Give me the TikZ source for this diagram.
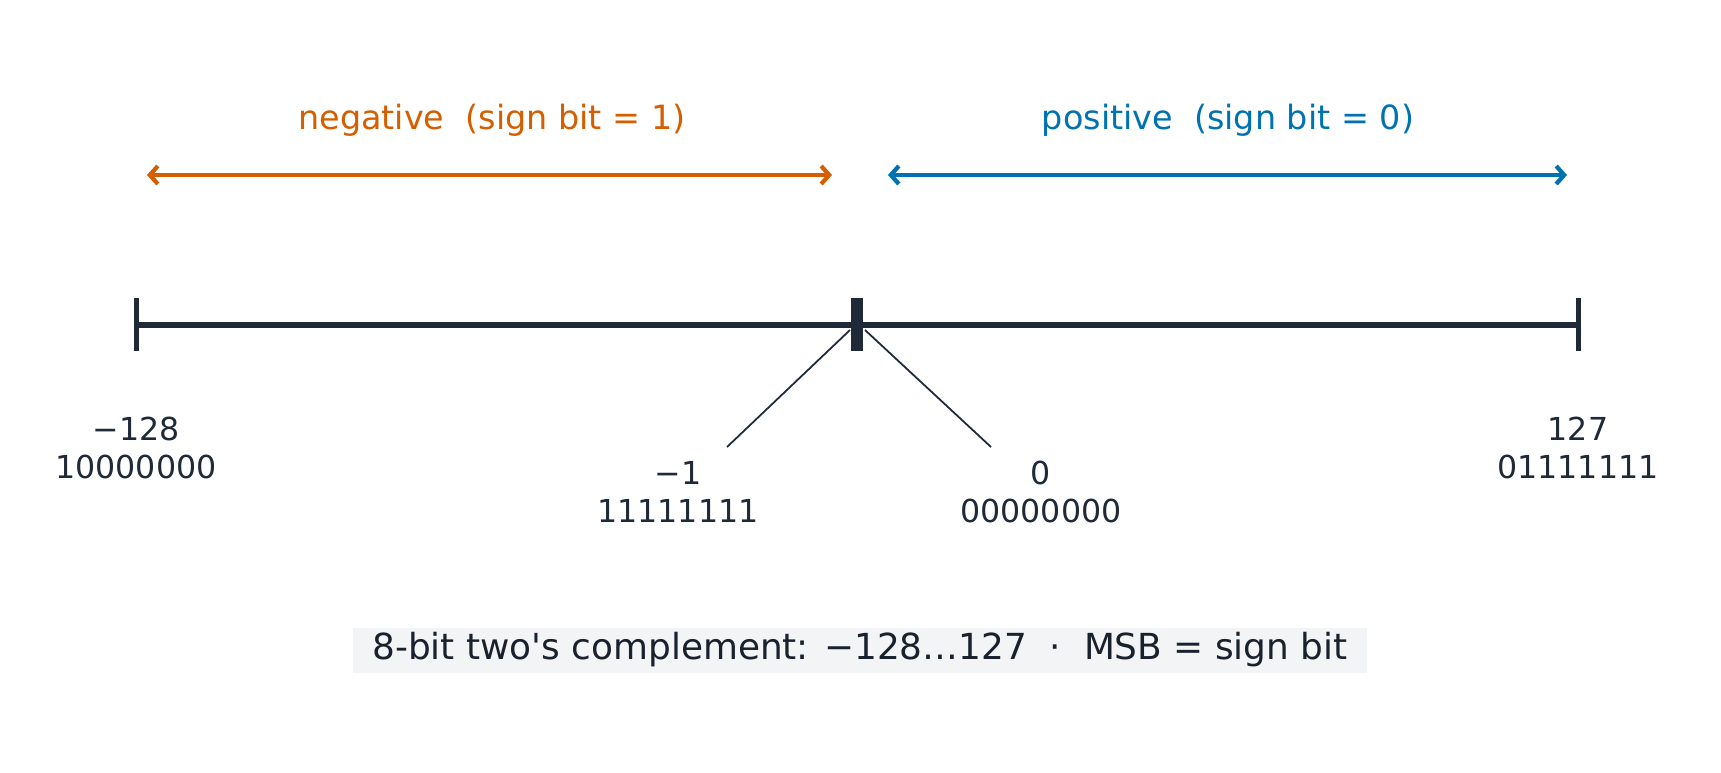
\documentclass[tikz,border=0pt]{standalone}
\usepackage{fontspec}
\setmainfont{DejaVu Sans}
\usetikzlibrary{calc}
\usetikzlibrary{positioning}
\usetikzlibrary{arrows.meta}
\definecolor{ink}{HTML}{1F2937}
\definecolor{negc}{HTML}{D55E00}
\definecolor{posc}{HTML}{0072B2}
\definecolor{capbg}{HTML}{F3F4F6}
\tikzstyle{valnode} = [text=ink, font=\fontsize{9}{11}\selectfont, align=center, inner sep=0]
\tikzstyle{rangenode} = [font=\fontsize{9.5}{11}\selectfont, inner sep=0]
\tikzstyle{rangearrow} = [line width=1.2pt, {Straight Barb[length=0.8mm,width=1.8mm]}-{Straight Barb[length=0.8mm,width=1.8mm]}]
\tikzstyle{tick} = [ink, line width=0.5mm]

\begin{document}
\begin{tikzpicture}[x=0.01cm, y=-0.01cm]
\useasboundingbox (0,0) rectangle (1721,772);
\coordinate (left) at (136,325);
\coordinate (mid) at (857,325);
\coordinate (right) at (1578,325);
\draw[ink, line width=0.55mm] (left) -- (right);
\draw[tick] ($(left)+(0,-27)$) -- ($(left)+(0,26)$);
\draw[tick] ($(right)+(0,-27)$) -- ($(right)+(0,26)$);
\fill[ink] ($(mid)+(-6,-27)$) rectangle ($(mid)+(6,26)$);

% ranges
\coordinate (nl) at (147,175);
\coordinate (nr) at (832,175);
\coordinate (pl) at (888,175);
\coordinate (pr) at (1567,175);
\draw[rangearrow, negc] (nl) -- (nr);
\draw[rangearrow, posc] (pl) -- (pr);
\node[rangenode, text=negc] (neg) at (492,120) {negative\ \ (sign bit = 1)};
\node[rangenode, text=posc] (pos) at (1228,120) {positive\ \ (sign bit = 0)};

% values
\node[valnode] (min) at (136,448) {−128\\10000000};
\node[valnode] (max) at (1578,448) {127\\01111111};
\node[valnode] (m1) at (678,492) {−1\\11111111};
\node[valnode] (zero) at (1041,492) {0\\00000000};
\coordinate (m1top) at (727,447);
\coordinate (zerotop) at (991,447);
\draw[ink, line width=0.5pt] ($(mid)+(-7,5)$) -- (m1top);
\draw[ink, line width=0.5pt] ($(mid)+(8,5)$) -- (zerotop);

\node[fill=capbg, text=ink!80!black, font=\fontsize{10.2}{12}\selectfont, minimum width=10.13cm, minimum height=0.45cm, inner sep=0] (cap) at (860,650)
{8-bit two\textquotesingle s complement: −128…127\ \ ·\ \ MSB = sign bit};
\end{tikzpicture}
\end{document}
